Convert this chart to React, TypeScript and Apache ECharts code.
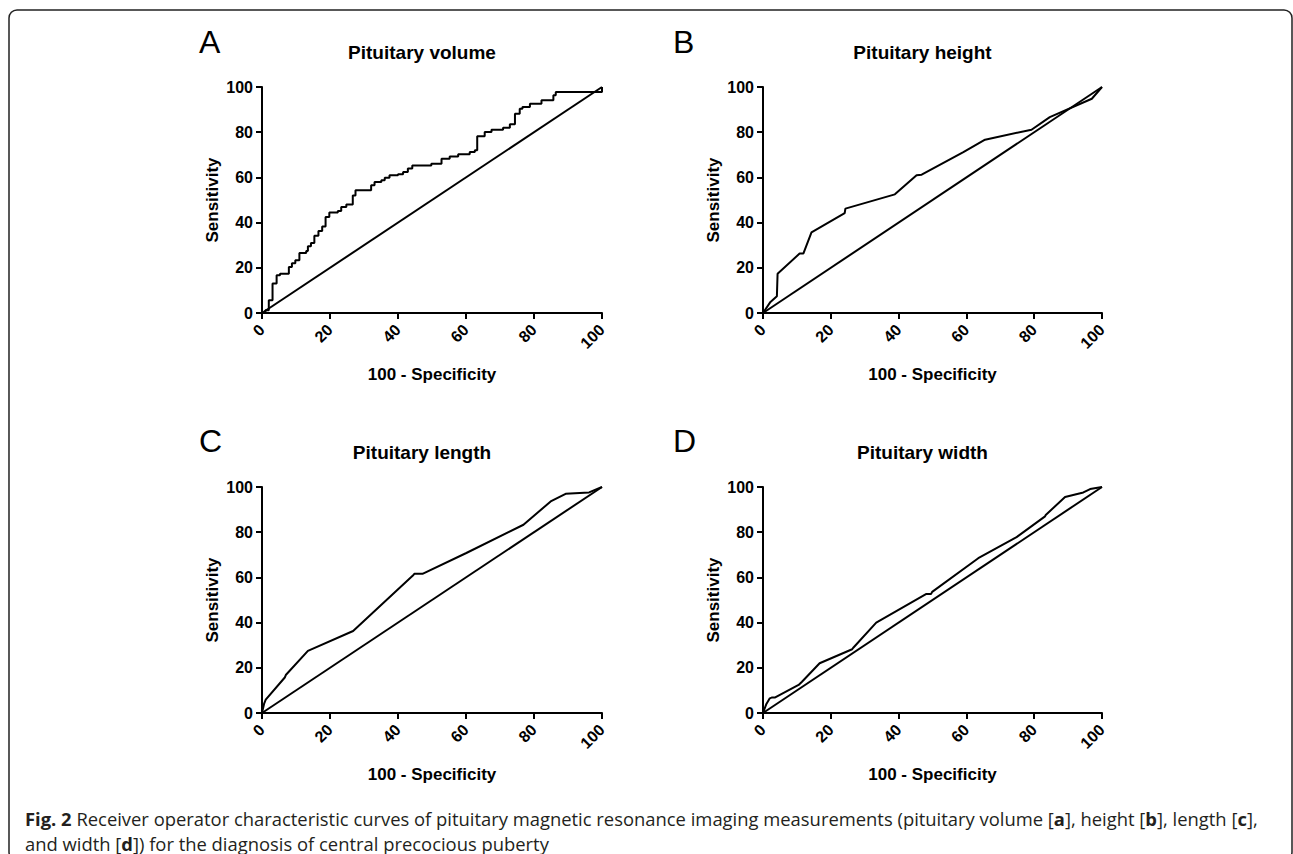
import React, { useEffect, useRef } from "react";
import * as echarts from "echarts";

const FONT = "'Liberation Sans', Arial, sans-serif";
const CAPTION_FONT = "'Open Sans', 'Noto Sans', sans-serif";
const CAPTION_SIZE = 18.4;

const panelLetters = ["A", "B", "C", "D"];
const panelTitles = ["Pituitary volume", "Pituitary height", "Pituitary length", "Pituitary width"];
const xAxisName = "100 - Specificity";
const yAxisName = "Sensitivity";

// ROC points [100 - specificity, sensitivity]
const volumeRoc = [
  [0, 0], [1.0, 1.2], [2.0, 5.6], [3.1, 13], [4.3, 16.7], [5.3, 17.4], [7.9, 20.3], [8.8, 22],
  [9.8, 23.3], [11, 26.5], [13, 27.4], [13.5, 29.5], [14.4, 31], [15.4, 34.2], [16.6, 36.3],
  [17.7, 38.3], [18.7, 42.5], [19.8, 44.5], [22.3, 45.1], [23.3, 46.9], [24.8, 48], [26.7, 52],
  [27.5, 54.3], [32.1, 56.5], [33.1, 58], [35.1, 58.7], [36.1, 59.9], [37.5, 60.9], [40, 61.4],
  [41.5, 62.4], [42.9, 63.9], [44.2, 65.3], [49.8, 66], [52.8, 68.3], [55.2, 69.3], [57.7, 70.2],
  [61.1, 71.2], [62.6, 72], [63.3, 78.2], [65.5, 80.1], [67.5, 81.1], [70.9, 82], [72.9, 83.5],
  [74.4, 88.2], [75.8, 90.4], [76.6, 91.2], [78.8, 92.6], [82.2, 94.1], [85.7, 96.3], [86.4, 97.8],
  [100, 97.8], [100, 100],
];
const heightRoc = [
  [0, 0], [2.2, 4.9], [4.1, 7.4], [4.3, 17.4], [10.8, 26.3], [11.9, 26.3], [14.3, 35.7],
  [24.1, 44.2], [24.3, 46.2], [38.9, 52.5], [45.3, 61], [46.8, 61.2], [59.1, 71.2], [65.5, 76.7],
  [79.2, 81.1], [84.6, 86.7], [97, 94.8], [100, 100],
];
const lengthRoc = [
  [0, 0], [0.6, 4], [1.1, 5.9], [6.7, 15.7], [7, 16.8], [13.5, 27.5], [26.8, 36.3], [44.3, 60.7],
  [44.8, 61.6], [47.2, 61.6], [60.1, 70.8], [76.9, 83.3], [84.9, 93.6], [89.3, 97], [96.2, 97.6],
  [100, 100],
];
const widthRoc = [
  [0, 0], [1, 4], [2, 6.5], [2.7, 6.9], [3.6, 6.9], [10.5, 12.4], [11.5, 13.8], [16.7, 22],
  [26.3, 28.2], [26.7, 29], [33.4, 40], [48.2, 52.7], [49.6, 52.7], [49.9, 53.6], [63.5, 68.5],
  [74.8, 77.8], [83.2, 87], [83.4, 87.6], [89.1, 95.6], [94.5, 97.6], [96.5, 99.1], [100, 100],
];
const referenceLine = [[0, 0], [100, 100]];
const rocCurves = [volumeRoc, heightRoc, lengthRoc, widthRoc];
const rocStep = ["end", false, false, false];

const captionLine1 =
  "{b|Fig. 2} Receiver operator characteristic curves of pituitary magnetic resonance imaging measurements (pituitary volume [{b|a}], height [{b|b}], length [{b|c}],";
const captionLine2 = "and width [{b|d}]) for the diagnosis of central precocious puberty";

const grids = [
  { left: 262, top: 87, width: 340, height: 226 },
  { left: 763, top: 87, width: 339, height: 226 },
  { left: 262, top: 487, width: 340, height: 226 },
  { left: 763, top: 487, width: 339, height: 226 },
];
const letterPos = [
  [199, 42],
  [673, 42],
  [199, 441],
  [673, 441],
];

export default function App() {
  const ref = useRef<HTMLDivElement>(null);
  useEffect(() => {
    if (!ref.current) return;
    const chart = echarts.init(ref.current, null, { renderer: "svg" });
    const axisCommon = {
      type: "value",
      min: 0,
      max: 100,
      interval: 20,
      nameLocation: "middle",
      nameTextStyle: { fontFamily: FONT, fontWeight: "bold", fontSize: 17, color: "#000" },
      axisLine: { show: true, onZero: false, lineStyle: { color: "#000", width: 2 } },
      axisTick: { show: true, length: 6, lineStyle: { color: "#000", width: 2 } },
      splitLine: { show: false },
    };
    const xAxis = grids.map((_, i) => ({
      ...axisCommon,
      gridIndex: i,
      name: xAxisName,
      nameGap: 53,
      axisLabel: { rotate: 45, margin: 14, fontFamily: FONT, fontWeight: "bold", fontSize: 16, color: "#000" },
    }));
    const yAxis = grids.map((_, i) => ({
      ...axisCommon,
      gridIndex: i,
      name: yAxisName,
      nameGap: 41,
      axisLabel: { margin: 9, fontFamily: FONT, fontWeight: "bold", fontSize: 16, color: "#000" },
    }));
    const series: any[] = [];
    rocCurves.forEach((data, i) => {
      series.push({
        type: "line",
        xAxisIndex: i,
        yAxisIndex: i,
        data,
        step: rocStep[i],
        showSymbol: false,
        lineStyle: { color: "#000", width: 2 },
        z: 3,
      });
      series.push({
        type: "line",
        xAxisIndex: i,
        yAxisIndex: i,
        data: referenceLine,
        showSymbol: false,
        lineStyle: { color: "#000", width: 2 },
        z: 3,
      });
    });
    const graphic: any[] = [
      {
        type: "rect",
        shape: { x: 9, y: 10, width: 1283, height: 850, r: 8 },
        style: { fill: "none", stroke: "#222", lineWidth: 1.5 },
        silent: true,
      },
    ];
    grids.forEach((g, i) => {
      graphic.push({
        type: "text",
        x: letterPos[i][0],
        y: letterPos[i][1],
        style: {
          text: panelLetters[i],
          fontFamily: FONT,
          fontSize: 32,
          fill: "#000",
          textAlign: "left",
          textVerticalAlign: "middle",
        },
      });
      graphic.push({
        type: "text",
        x: g.left + g.width / 2 - 10,
        y: g.top - 35,
        style: {
          text: panelTitles[i],
          fontFamily: FONT,
          fontWeight: "bold",
          fontSize: 19,
          fill: "#000",
          textAlign: "center",
          textVerticalAlign: "middle",
        },
      });
    });
    const rich = {
      b: { fontFamily: CAPTION_FONT, fontSize: CAPTION_SIZE, fontWeight: "bold", fill: "#231f20", color: "#231f20" },
    };
    graphic.push({
      type: "text",
      x: 25,
      y: 818,
      style: {
        text: captionLine1,
        rich,
        fontFamily: CAPTION_FONT,
        fontSize: CAPTION_SIZE,
        fill: "#231f20",
        textAlign: "left",
        textVerticalAlign: "middle",
      },
    });
    graphic.push({
      type: "text",
      x: 25,
      y: 843,
      style: {
        text: captionLine2,
        rich,
        fontFamily: CAPTION_FONT,
        fontSize: CAPTION_SIZE,
        fill: "#231f20",
        textAlign: "left",
        textVerticalAlign: "middle",
      },
    });
    chart.setOption({
      animation: false,
      backgroundColor: "#fff",
      grid: grids.map((g) => ({ ...g, containLabel: false })),
      xAxis,
      yAxis,
      series,
      graphic,
    });
    return () => chart.dispose();
  }, []);
  return (
    <div
      ref={ref}
      style={{ position: "fixed", left: 0, top: 0, width: 1293, height: 854, background: "#fff" }}
    />
  );
}
